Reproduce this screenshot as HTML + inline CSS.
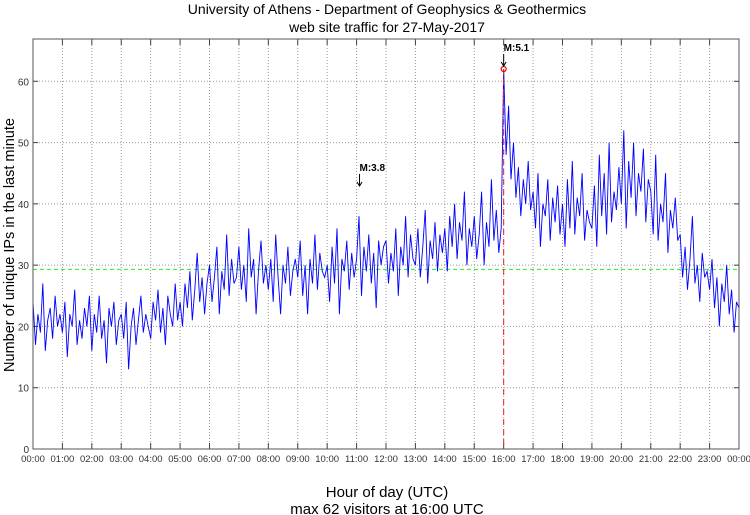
<!DOCTYPE html>
<html><head><meta charset="utf-8"><style>
body{margin:0;background:#fff;}
svg{display:block;font-family:"Liberation Sans",sans-serif;}
</style></head><body>
<svg id="c" width="750" height="515">
<text x="387" y="14" text-anchor="middle" font-size="14">University of Athens - Department of Geophysics &amp; Geothermics</text>
<text x="387" y="32" text-anchor="middle" font-size="14">web site traffic for 27-May-2017</text>
<text x="387" y="497" text-anchor="middle" font-size="15">Hour of day (UTC)</text>
<text x="387" y="514" text-anchor="middle" font-size="15">max 62 visitors at 16:00 UTC</text>
<text transform="translate(14,245) rotate(-90)" text-anchor="middle" font-size="14.5">Number of unique IPs in the last minute</text>
</svg>
<script>
const yTicks=[0,10,20,30,40,50,60];
const xTickLabels=["00:00","01:00","02:00","03:00","04:00","05:00","06:00","07:00","08:00","09:00","10:00","11:00","12:00","13:00","14:00","15:00","16:00","17:00","18:00","19:00","20:00","21:00","22:00","23:00","00:00"];
const visitors=[
24,17,22,19,27,16,21,23,18,25,20,22,
19,24,15,22,20,26,17,21,18,23,20,25,
16,22,19,25,18,21,14,23,20,24,17,21,
22,18,24,13,20,23,17,21,25,19,22,20,
18,24,21,26,19,23,17,25,22,20,27,21,
24,20,27,23,29,21,26,32,24,28,22,27,
30,24,28,33,22,29,26,35,25,31,27,28,
33,26,30,24,36,28,31,22,29,34,27,30,
26,31,24,35,28,22,30,27,33,25,29,31,
28,34,25,30,22,31,27,35,26,32,29,28,
30,24,33,27,36,22,31,29,34,26,32,28,
31,38,25,33,29,35,27,32,23,34,30,33,
34,27,32,29,36,25,33,30,38,28,35,31,
30,36,28,33,39,27,34,31,37,29,35,32,
36,29,38,33,40,31,37,34,42,30,36,33,
38,31,35,42,30,37,33,44,34,39,32,36,
62,48,56,44,50,41,46,38,44,40,47,39,
42,36,45,33,40,38,44,34,41,37,43,35,
40,33,44,36,47,35,41,38,45,34,39,37,
36,43,33,48,38,45,35,50,37,42,39,46,
40,52,36,47,41,50,38,45,42,49,37,44,
42,35,48,34,40,37,45,32,39,36,41,34,
35,28,33,26,31,38,27,30,24,32,28,29,
26,31,23,28,20,27,24,30,22,26,19,24,23];
const stepMinutes=5;
const meanValue=29.3;
const events=[{label:"M:3.8",hour:11.1,value:null},{label:"M:5.1",hour:16,value:62}];
const maxHour=16, maxValue=62;

const L=33,R=739,T=39,B=449,YMAX=66.9;
const xs=h=>L+(R-L)*h/24;
const ys=v=>B-(B-T)*v/YMAX;
const NS="http://www.w3.org/2000/svg";
const svg=document.getElementById('c');
function mk(t,a,parent){const e=document.createElementNS(NS,t);for(const k in a)e.setAttribute(k,a[k]);(parent||svg).appendChild(e);return e;}

yTicks.forEach(v=>{
 if(v>0){const g=mk('line',{x1:L,x2:R,y1:ys(v),y2:ys(v),stroke:'#999','stroke-dasharray':'1,2','stroke-width':1});
 
 }
 const t=mk('text',{x:L-4,y:ys(v)+4,'text-anchor':'end','font-size':10,fill:'#333'});t.textContent=v;
 
 
 mk('line',{x1:L,x2:L+5,y1:ys(v),y2:ys(v),stroke:'#444'});
 mk('line',{x1:R,x2:R-5,y1:ys(v),y2:ys(v),stroke:'#444'});
});
xTickLabels.forEach((lab,i)=>{
 const x=xs(i);
 if(i>0&&i<24){const g=mk('line',{x1:x,x2:x,y1:T,y2:B,stroke:'#999','stroke-dasharray':'1,2','stroke-width':1});
 
 }
 mk('line',{x1:x,x2:x,y1:B,y2:B-6,stroke:'#444'});
 mk('line',{x1:x,x2:x,y1:T,y2:T+6,stroke:'#444'});
 const t=mk('text',{x:x,y:B+13,'text-anchor':'middle','font-size':9.5,fill:'#333'});t.textContent=lab;
 
 
});
const ml=mk('line',{x1:L,x2:R,y1:ys(meanValue),y2:ys(meanValue),stroke:'#2e2','stroke-dasharray':'4,3','stroke-width':1});


const pts=visitors.map((v,i)=>xs(i*stepMinutes/60).toFixed(1)+','+ys(v).toFixed(1)).join(' ');
const pl=mk('polyline',{points:pts,fill:'none',stroke:'#00f','stroke-width':0.9});


const vl=mk('line',{x1:xs(maxHour),x2:xs(maxHour),y1:ys(maxValue),y2:B,stroke:'#e22','stroke-dasharray':'6,4','stroke-width':1});


const mc=mk('circle',{cx:xs(maxHour),cy:ys(maxValue),r:2.5,fill:'none',stroke:'#d00','stroke-width':1.2});


events.forEach(ev=>{
 const x=xs(ev.hour);
 const yTip=ev.value!==null?ys(ev.value)-3:186;
 const yTop=yTip-12;
 const a=mk('line',{x1:x,x2:x,y1:yTop,y2:yTip,stroke:'#000'});
 
 
 mk('path',{d:`M${x-2.5},${yTip-4} L${x},${yTip} L${x+2.5},${yTip-4}`,fill:'none',stroke:'#000'});
 const t=mk('text',{x:x,y:yTop-3,'font-size':10,'font-weight':'bold'});t.textContent=ev.label;
 
 
});
const fr=mk('rect',{x:L,y:T,width:R-L,height:B-T,fill:'none',stroke:'#555','stroke-width':1});


</script>
</body></html>
